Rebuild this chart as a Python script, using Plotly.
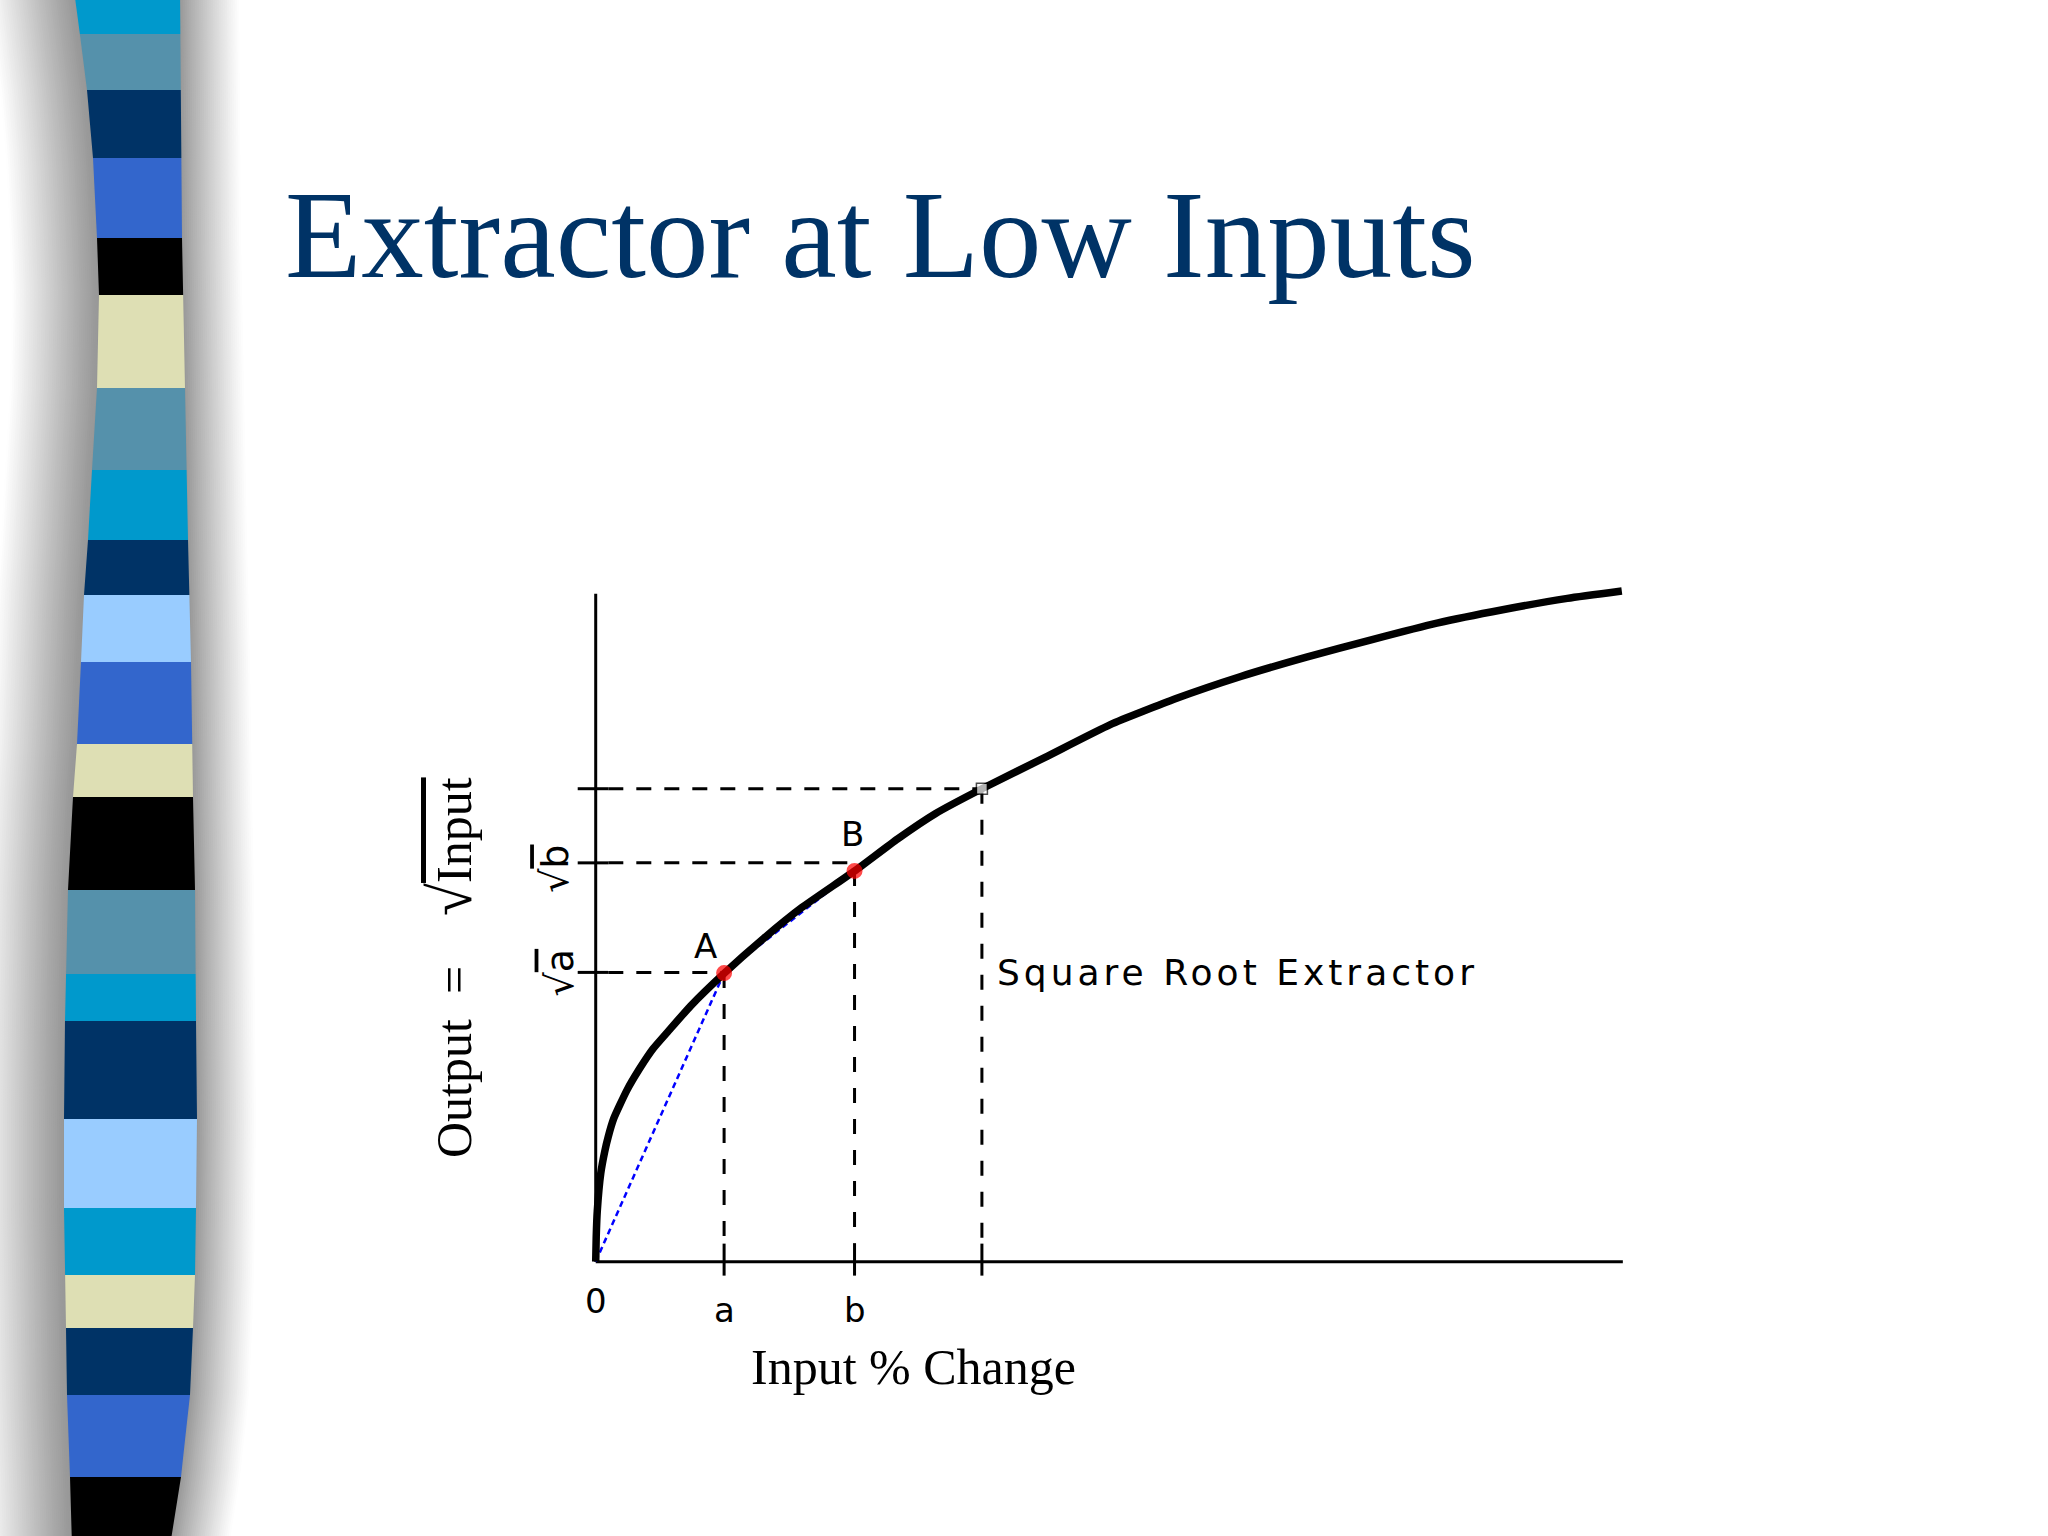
import plotly.graph_objects as go

# ------------------------------------------------------------------
# DATA
# ------------------------------------------------------------------
curve_input = [0, 0.05, 0.15, 0.49, 0.88, 1.22, 1.75, 3.02, 4.28, 5.60, 7.01,
               9.25, 12.46, 16.36, 20.06, 25.22, 29.4, 33.1, 37.6, 43.75, 50.1,
               56.5, 62.8, 69.2, 75.5, 81.9, 88.3, 94.6, 99.9]
curve_output = [0, 3.7, 7.5, 13.2, 16.5, 18.7, 21.4, 25.6, 28.9, 31.9, 34.4,
                38.3, 43.1, 48.4, 53.0, 58.5, 63.3, 67.1, 70.8, 75.5, 80.4,
                84.3, 87.6, 90.5, 93.1, 95.6, 97.6, 99.3, 100.4]

point_names = ["A", "B", ""]
point_input = [12.5, 25.2, 37.6]
point_output = [43.2, 58.5, 70.8]
guide_levels = [43.3, 59.7, 70.8]

chord_input = [0, 12.5, 25.2]
chord_output = [0, 43.2, 58.5]

x_tick_vals = [0, 12.5, 25.2]
x_tick_text = ["0", "a", "b"]
y_tick_vals = [43.3, 59.7]
y_tick_text = ["a", "b"]          # shown under a square-root sign

axis_x_max = 100
axis_y_max = 100

title_text = "Extractor at Low Inputs"
x_title = "Input % Change"
curve_label = "Square Root Extractor"

# ------------------------------------------------------------------
# LAYOUT GEOMETRY
# ------------------------------------------------------------------
W, H = 2048, 1536
ORIGIN_PX = (596, 1262)
PX_PER_X = 10.27
PX_PER_Y = 6.68
X_RANGE = (-2.6, 100.6)
Y_RANGE = (-3.2, 101.0)

L = round(ORIGIN_PX[0] + X_RANGE[0] * PX_PER_X)
PW = round((X_RANGE[1] - X_RANGE[0]) * PX_PER_X)
R = W - L - PW
bottom_px = ORIGIN_PX[1] - Y_RANGE[0] * PX_PER_Y
PH = round((Y_RANGE[1] - Y_RANGE[0]) * PX_PER_Y)
T = round(bottom_px - PH)
B = H - T - PH


def px(x):
    return (x - L) / PW


def py(y):
    return (T + PH - y) / PH


TICK_UP = 18 / PX_PER_Y
TICK_DOWN = 14 / PX_PER_Y
TICK_LEFT = 18 / PX_PER_X
TICK_RIGHT = 12.6 / PX_PER_X

fig = go.Figure()

# dashed guide lines
hx, hy = [], []
for lvl, xi in zip(guide_levels, point_input):
    hx += [TICK_RIGHT, xi, None]
    hy += [lvl, lvl, None]
vx, vy = [], []
for xi, yi in zip(point_input, point_output):
    vx += [xi, xi, None]
    vy += [yi, TICK_UP, None]
fig.add_trace(go.Scatter(x=hx, y=hy, mode="lines",
                         line=dict(color="black", width=3, dash="15px,13px")))
fig.add_trace(go.Scatter(x=vx, y=vy, mode="lines",
                         line=dict(color="black", width=3, dash="15px,16px")))

# solid ticks crossing the axes
tx, ty = [], []
for xi in point_input:
    tx += [xi, xi, None]
    ty += [-TICK_DOWN, TICK_UP, None]
for lvl in guide_levels:
    tx += [-TICK_LEFT, TICK_RIGHT, None]
    ty += [lvl, lvl, None]
fig.add_trace(go.Scatter(x=tx, y=ty, mode="lines",
                         line=dict(color="black", width=3)))

# axes
fig.add_trace(go.Scatter(x=[0, axis_x_max, None, 0, 0],
                         y=[0, 0, None, 0, axis_y_max], mode="lines",
                         line=dict(color="black", width=3)))

# blue chords
fig.add_trace(go.Scatter(x=chord_input, y=chord_output, mode="lines",
                         line=dict(color="#0000ff", width=2.5, dash="6px,4px")))

# the square-root curve
fig.add_trace(go.Scatter(x=curve_input, y=curve_output, mode="lines",
                         line=dict(color="black", width=7.5, shape="spline",
                                   smoothing=0.5)))

# points
fig.add_trace(go.Scatter(x=point_input, y=point_output, mode="markers",
                         marker=dict(symbol=["circle", "circle", "square"],
                                     size=[14, 14, 11],
                                     color=["#ff0000", "#ff0000", "#ffffff"],
                                     line=dict(color=["#ff0000", "#ff0000", "#000000"],
                                               width=[2, 2, 1.5]))))

ann = []
SANS = "DejaVu Sans"
SERIF = "Liberation Serif"

# x tick labels
label_y_px = [1301, 1310, 1310]
for v, t, ly in zip(x_tick_vals, x_tick_text, label_y_px):
    ann.append(dict(x=v, xref="x", y=py(ly), yref="paper", text=t, showarrow=False,
                    xanchor="center", yanchor="middle",
                    font=dict(family=SANS, size=34, color="black")))

# y tick labels (rotated, with radical)
ylab_px = [(560, 0), (555, -6)]
for v, t, (lx, ys) in zip(y_tick_vals, y_tick_text, ylab_px):
    ann.append(dict(x=px(lx), xref="paper", y=v, yref="y", yshift=ys,
                    text="√<span style='text-decoration:overline'>" + t + "</span>",
                    showarrow=False, textangle=-90, xanchor="center", yanchor="middle",
                    font=dict(family=SANS, size=38, color="black")))

# point labels
shifts = [(-19, 27), (-2, 37)]
for n, xi, yi, (xs, ys) in zip(point_names, point_input, point_output, shifts):
    if n:
        ann.append(dict(x=xi, xref="x", y=yi, yref="y", xshift=xs, yshift=ys,
                        text=n, showarrow=False, xanchor="center", yanchor="middle",
                        font=dict(family=SANS, size=34, color="black")))

# curve label
ann.append(dict(x=px(995), xref="paper", y=py(972), yref="paper",
                text="<span style='letter-spacing:4px'>" + curve_label + "</span>",
                showarrow=False, xanchor="left", yanchor="middle",
                font=dict(family=SANS, size=36, color="black")))

# axis titles
ann.append(dict(x=px(913), xref="paper", y=py(1367), yref="paper", text=x_title,
                showarrow=False, xanchor="center", yanchor="middle",
                font=dict(family=SERIF, size=50, color="black")))
ann.append(dict(x=px(451), xref="paper", y=py(968), yref="paper",
                text="Output&nbsp;&nbsp;=&nbsp;&nbsp;&nbsp;&nbsp;<span style='font-size:60px'>√</span>"
                     "<span style='text-decoration:overline'>Input</span>",
                showarrow=False, textangle=-90, xanchor="center", yanchor="middle",
                font=dict(family=SERIF, size=50, color="black")))

# slide title
ann.append(dict(x=px(283), xref="paper", y=py(235), yref="paper", text=title_text,
                showarrow=False, xanchor="left", yanchor="middle",
                font=dict(family=SERIF, size=125, color="#003366")))

# ------------------------------------------------------------------
# decorative striped bar on the left
# ------------------------------------------------------------------
CYAN, STEEL, NAVY, ROYAL = "#0099cc", "#5591ab", "#003366", "#3366cc"
BLACK, BEIGE, LIGHT = "#000000", "#dedfb4", "#99ccff"
strip_y = [-10, 34, 90, 158, 238, 295, 388, 470, 540, 595, 662, 744, 797, 890,
           974, 1021, 1119, 1208, 1275, 1328, 1395, 1477, 1546]
strip_colors = [CYAN, STEEL, NAVY, ROYAL, BLACK, BEIGE, STEEL, CYAN, NAVY, LIGHT,
                ROYAL, BEIGE, BLACK, STEEL, CYAN, NAVY, LIGHT, CYAN, BEIGE, NAVY,
                ROYAL, BLACK]
left_edge = [(-10, 74), (35, 80), (90, 87), (158, 93), (238, 97), (295, 99), (388, 97),
             (470, 92), (540, 88), (595, 84), (662, 81), (744, 77), (797, 73),
             (890, 68), (1021, 65), (1119, 64), (1208, 64), (1328, 66), (1395, 67),
             (1477, 70), (1546, 72)]
right_edge = [(-10, 180), (238, 182), (388, 185), (540, 188), (662, 191), (797, 193),
              (890, 195), (1021, 196), (1119, 197), (1208, 196), (1275, 195),
              (1328, 193), (1395, 190), (1440, 185), (1477, 181), (1546, 170)]


def edge_at(pts, y):
    for (y0, x0), (y1, x1) in zip(pts, pts[1:]):
        if y <= y1:
            t = (y - y0) / (y1 - y0)
            return x0 + t * (x1 - x0)
    return pts[-1][1]


def poly(points):
    return "M " + " L ".join(f"{px(x):.5f},{py(y):.5f}" for x, y in points) + " Z"


shapes = []
ys_full = list(range(-10, 1551, 20))
# left shadow
for k in range(45):
    d0, d1 = k * 2.0, (k + 1) * 2.0
    g = int(round(150 + 105 * min(1.0, ((d0 + d1) / 2) / 88) ** 1.1))
    pts = [(edge_at(left_edge, y) - d1, y) for y in ys_full]
    pts += [(edge_at(left_edge, y) - d0 + 1, y) for y in reversed(ys_full)]
    shapes.append(dict(type="path", xref="paper", yref="paper", path=poly(pts),
                       fillcolor=f"rgb({g},{g},{g})", line=dict(width=0), layer="below"))
# right shadow
for k in range(32):
    d0, d1 = k * 2.0, (k + 1) * 2.0
    g = int(round(150 + 105 * min(1.0, ((d0 + d1) / 2) / 60) ** 0.9))
    pts = [(edge_at(right_edge, y) + d0 - 1, y) for y in ys_full]
    pts += [(edge_at(right_edge, y) + d1, y) for y in reversed(ys_full)]
    shapes.append(dict(type="path", xref="paper", yref="paper", path=poly(pts),
                       fillcolor=f"rgb({g},{g},{g})", line=dict(width=0), layer="below"))
# bands
for (y0, y1), col in zip(zip(strip_y, strip_y[1:]), strip_colors):
    yy = [y0 + (y1 - y0) * i / 6 for i in range(7)]
    pts = [(edge_at(left_edge, y), y) for y in yy]
    pts += [(edge_at(right_edge, y), y) for y in reversed(yy)]
    shapes.append(dict(type="path", xref="paper", yref="paper", path=poly(pts),
                       fillcolor=col, line=dict(width=0), layer="below"))

fig.update_layout(
    width=W, height=H, autosize=False,
    margin=dict(l=L, r=R, t=T, b=B, pad=0),
    paper_bgcolor="white", plot_bgcolor="rgba(0,0,0,0)",
    showlegend=False, hovermode=False,
    xaxis=dict(range=list(X_RANGE), visible=False),
    yaxis=dict(range=list(Y_RANGE), visible=False),
    annotations=ann, shapes=shapes,
)

fig.write_html("out.html",
               config={"displayModeBar": False},
               post_script="document.body.style.margin='0px';"
                           "document.body.style.overflow='hidden';")
